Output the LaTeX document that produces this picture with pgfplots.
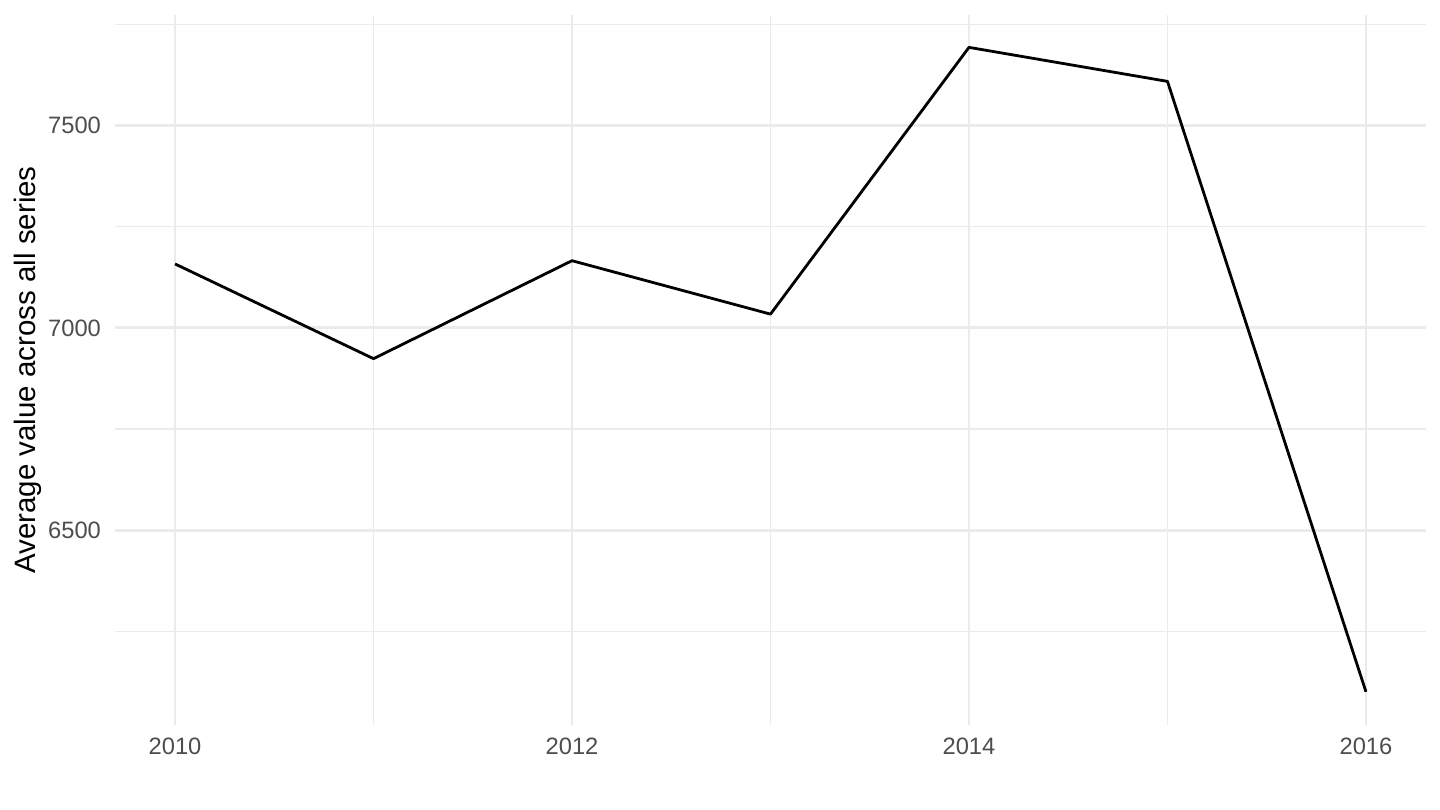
\documentclass[border=0pt]{standalone}
\usepackage{fontspec}
\setmainfont{Liberation Sans}
\usepackage{pgfplots}
\pgfplotsset{compat=1.18}
\definecolor{gridc}{HTML}{EBEBEB}
\definecolor{tickc}{HTML}{4D4D4D}
\begin{document}
\begin{tikzpicture}
\useasboundingbox (-57.75bp,-42.5bp) rectangle (662.25bp,362.5bp);
\begin{axis}[
at={(0,0)}, anchor=south west,
scale only axis,
width=655bp, height=355bp,
xmin=2009.7, xmax=2016.3,
ymin=6019, ymax=7773,
axis line style={draw=none},
major tick length=0pt, minor tick length=0pt,
xtick={2010,2012,2014,2016},
minor xtick={2011,2013,2015},
ytick={6500,7000,7500},
minor ytick={6250,6750,7250,7750},
grid=both,
major grid style={gridc, line width=1.45bp},
minor grid style={gridc, line width=0.72bp},
/pgf/number format/assume math mode=true,
/pgf/number format/1000 sep={},
xticklabel style={font=\fontsize{11.9}{14}\selectfont, text=tickc, anchor=north, inner sep=0pt, yshift=-6.5bp},
yticklabel style={font=\fontsize{11.9}{14}\selectfont, text=tickc, anchor=east, inner sep=0pt, xshift=-7.1bp},
ylabel={Average value across all series},
every axis y label/.style={at={(axis description cs:-0.0607,0.5)}, rotate=90, anchor=base, font=\fontsize{14.8}{17}\selectfont},
clip=false,
]
\addplot [black, line width=1.4bp, line join=round] coordinates {
(2010,7158) (2011,6924) (2012,7166) (2013,7034) (2014,7693) (2015,7609) (2016,6101)
};
\end{axis}
\end{tikzpicture}
\end{document}
